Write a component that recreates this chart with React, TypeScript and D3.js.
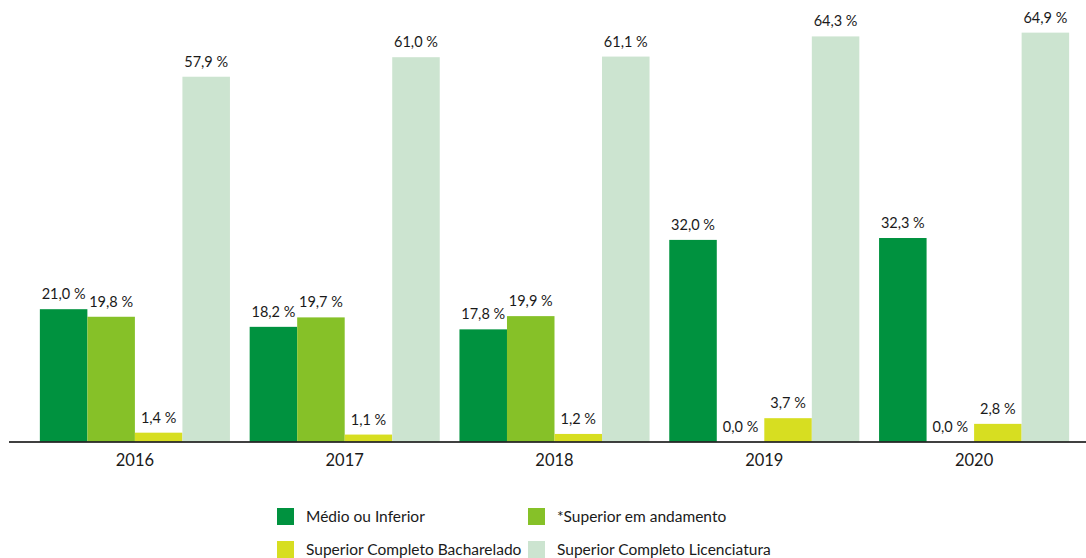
import React from "react";
import * as d3 from "d3";

const years = ["2016", "2017", "2018", "2019", "2020"];
const seriesNames = [
  "Médio ou Inferior",
  "*Superior em andamento",
  "Superior Completo Bacharelado",
  "Superior Completo Licenciatura",
];
const medio = [21.0, 18.2, 17.8, 32.0, 32.3];
const andamento = [19.8, 19.7, 19.9, 0.0, 0.0];
const bacharelado = [1.4, 1.1, 1.2, 3.7, 2.8];
const licenciatura = [57.9, 61.0, 61.1, 64.3, 64.9];
const colors = ["#00923f", "#86c128", "#d7de21", "#cce4d0"];

const seriesValues = [medio, andamento, bacharelado, licenciatura];
const FONT = "Lato, sans-serif";

export default function App() {
  const W = 1086;
  const H = 558;
  const x0 = d3.scaleBand().domain(years).range([30, 1079]).paddingInner(0.094).paddingOuter(0.047);
  const x1 = d3.scaleBand().domain(seriesNames).range([0, x0.bandwidth()]);
  const y = d3.scaleLinear().domain([0, 70]).range([441.5, 0.5]);
  const fmt = (v: number) => v.toFixed(1).replace(".", ",") + " %";

  const legendPos = [
    { x: 277, y: 508 },
    { x: 528, y: 508 },
    { x: 277, y: 541 },
    { x: 528, y: 541 },
  ];

  return (
    <svg width={W} height={H} style={{ position: "absolute", left: 0, top: 0, background: "#fff" }}>
      {years.map((yr, i) => (
        <g key={yr} transform={`translate(${x0(yr)},0)`}>
          {seriesNames.map((s, j) => {
            const v = seriesValues[j][i];
            const bx = x1(s)!;
            return (
              <g key={s}>
                <rect x={bx} y={y(v)} width={x1.bandwidth()} height={y(0) - y(v)} fill={colors[j]} />
                <text
                  x={bx + x1.bandwidth() / 2}
                  y={y(v) - 10}
                  textAnchor="middle"
                  fontFamily={FONT}
                  fontSize={14.5}
                  fill="#1a1a1a"
                >
                  {fmt(v)}
                </text>
              </g>
            );
          })}
          <text
            x={x0.bandwidth() / 2}
            y={466}
            textAnchor="middle"
            fontFamily={FONT}
            fontSize={16.5}
            fill="#1a1a1a"
          >
            {yr}
          </text>
        </g>
      ))}
      <line x1={9} x2={1086} y1={442} y2={442} stroke="#000" strokeWidth={1.5} />
      {seriesNames.map((s, j) => (
        <g key={s} transform={`translate(${legendPos[j].x},${legendPos[j].y})`}>
          <rect x={0} y={0} width={17} height={17} fill={colors[j]} />
          <text x={29} y={14} fontFamily={FONT} fontSize={15.5} fill="#1a1a1a">
            {s}
          </text>
        </g>
      ))}
    </svg>
  );
}
